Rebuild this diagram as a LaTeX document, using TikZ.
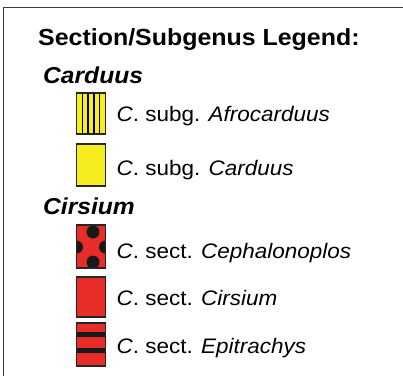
\documentclass[tikz,border=0pt]{standalone}
\usepackage{fontspec}
\setmainfont[FakeStretch=1.07]{Liberation Sans}
\usetikzlibrary{calc}
\definecolor{cyellow}{RGB}{247,236,30}
\definecolor{cred}{RGB}{232,45,40}
\definecolor{cframe}{RGB}{60,60,60}
\begin{document}
\begin{tikzpicture}[x=1pt,y=-1pt,
  swatch/.style={draw=black!85, line width=1.3pt, minimum width=29pt, minimum height=42pt, inner sep=0pt, outer sep=0pt},
  head/.style={anchor=base west, font=\fontsize{23}{26}\selectfont\bfseries\itshape, inner sep=0pt},
  lab/.style={anchor=base west, font=\fontsize{21}{24}\selectfont, inner sep=0pt}]
\useasboundingbox (0,0) rectangle (403,375);
\fill[white] (0,0) rectangle (403,375);
\draw[cframe, line width=1.6pt] (3.5,376) -- (3.5,7.5) -- (404,7.5);
\node[anchor=base west, inner sep=0pt, font=\fontsize{23.3}{26}\selectfont\bfseries] (title) at (38,45) {Section/Subgenus Legend:};
\node[head] (hcard) at (43,83) {Carduus};
\node[head] (hcirs) at (43,214.3) {Cirsium};
% swatches
\node[swatch, fill=cyellow, minimum height=41pt] (s1) at (91,113.5) {};
\foreach \k in {1,2,3,4} \draw[black, line width=1.4pt] ($(s1.north west)!\k/5!(s1.north east)$) -- ($(s1.south west)!\k/5!(s1.south east)$);
\node[swatch, fill=cyellow] (s2) at (91,165) {};
\node[swatch, fill=cred, minimum height=43pt] (s3) at (91,246.5) {};
\begin{scope}
\clip (s3.north west) rectangle (s3.south east);
\fill[black!90] (93,232) circle (6.5) (93,262) circle (6.5) (76.5,247) circle (6.5) (105.5,247) circle (6.5);
\end{scope}
\node[swatch, fill=none, minimum height=43pt] at (s3) {};
\node[swatch, fill=cred, minimum height=40pt] (s4) at (91,297) {};
\node[swatch, fill=cred, minimum height=43pt] (s5) at (91,344.5) {};
\fill[black!90] ([yshift=-9pt]s5.north west) rectangle ([yshift=-14pt]s5.north east);
\fill[black!90] ([yshift=-25pt]s5.north west) rectangle ([yshift=-30pt]s5.north east);
\node[swatch, fill=none, minimum height=43pt] at (s5) {};
% labels
\node[lab] (l1) at (116.5,121.7) {\textit{C}. subg. \textit{Afrocarduus}};
\node[lab] (l2) at (116.5,175) {\textit{C}. subg. \textit{Carduus}};
\node[lab] (l3) at (116.5,258) {\textit{C}. sect. \textit{Cephalonoplos}};
\node[lab] (l4) at (116.5,305) {\textit{C}. sect. \textit{Cirsium}};
\node[lab] (l5) at (116.5,353.3) {\textit{C}. sect. \textit{Epitrachys}};
\end{tikzpicture}
\end{document}
